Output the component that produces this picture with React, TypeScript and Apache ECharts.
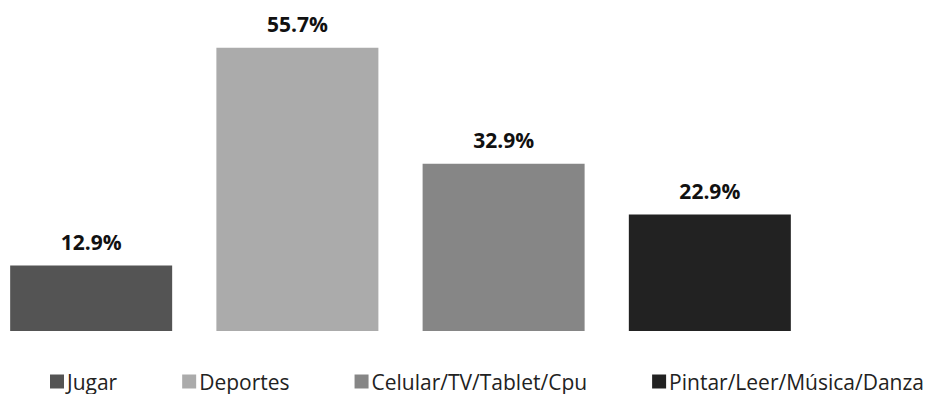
import React, { useEffect, useRef } from "react";
import * as echarts from "echarts";

const categories = ["Jugar", "Deportes", "Celular/TV/Tablet/Cpu", "Pintar/Leer/Música/Danza"];
const values = [12.9, 55.7, 32.9, 22.9];
const colors = ["#545454", "#ababab", "#868686", "#222222"];

export default function App() {
  const ref = useRef<HTMLDivElement>(null);
  useEffect(() => {
    const chart = echarts.init(ref.current!, null, { renderer: "svg" });
    const series = categories.map((name, i) => ({
      name,
      type: "bar",
      data: [values[i]],
      barWidth: 162,
      barGap: "27.3%",
      itemStyle: { color: colors[i] },
      label: {
        show: true,
        position: "top",
        distance: 13,
        formatter: (p: any) => p.value.toFixed(1) + "%",
        fontFamily: "Open Sans",
        fontWeight: "bold",
        fontSize: 21,
        color: "#111",
      },
    }));
    chart.setOption({
      animation: false,
      backgroundColor: "#fff",
      grid: { left: 10, right: 145, top: 26, bottom: 63 },
      xAxis: { type: "category", data: [""], show: false },
      yAxis: { type: "value", min: 0, max: 60, show: false },
      legend: {
        data: categories,
        left: 45,
        top: 366,
        itemWidth: 14,
        itemHeight: 14,
        itemGap: 65,
        icon: "rect",
        textStyle: { fontFamily: "Open Sans", fontSize: 21, color: "#222", padding: [0, 0, 0, -2] },
      },
      series,
    });
    return () => chart.dispose();
  }, []);
  return <div ref={ref} style={{ position: "fixed", left: 0, top: 0, width: 936, height: 394 }} />;
}
